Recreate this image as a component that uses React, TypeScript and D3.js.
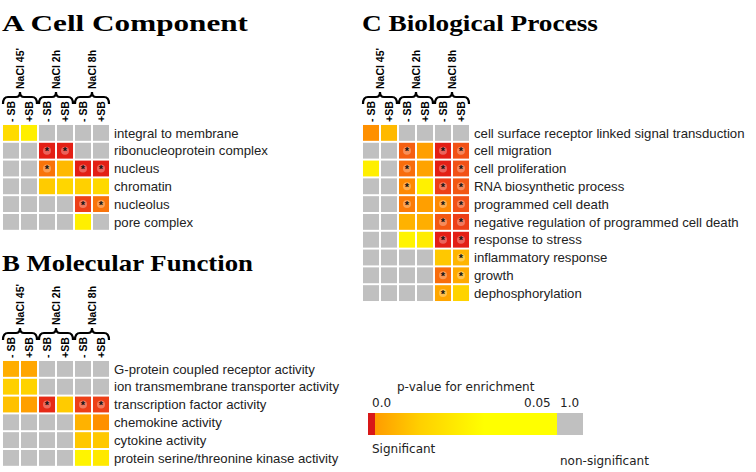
import * as d3 from "d3";
import React from "react";
import { useRef, useEffect } from "react";

// column / group headers (same for all three panels)
const columns = ["- SB", "+SB", "- SB", "+SB", "- SB", "+SB"];
const groups = ["NaCl 45'", "NaCl 2h", "NaCl 8h"];

// A Cell Component
const ccTerms = ["integral to membrane", "ribonucleoprotein complex", "nucleus", "chromatin", "nucleolus", "pore complex"];
const ccP = [
  [0.037, 0.044, null, null, null, null],
  [null, null, 0.001, 0.001, null, null],
  [null, null, 0.011, 0.026, 0.001, 0.001],
  [null, null, 0.031, 0.035, 0.033, 0.036],
  [null, null, null, null, 0.004, 0.011],
  [null, null, null, null, 0.044, null],
];
const ccStar = [
  [0, 0, 0, 0, 0, 0],
  [0, 0, 1, 1, 0, 0],
  [0, 0, 1, 0, 1, 1],
  [0, 0, 0, 0, 0, 0],
  [0, 0, 0, 0, 1, 1],
  [0, 0, 0, 0, 0, 0],
];

// B Molecular Function
const mfTerms = ["G-protein coupled receptor activity", "ion transmembrane transporter activity", "transcription factor activity", "chemokine activity", "cytokine activity", "protein serine/threonine kinase activity"];
const mfP = [
  [0.023, 0.021, null, null, null, null],
  [0.033, 0.034, null, null, null, null],
  [0.028, 0.019, 0.002, 0.031, 0.004, 0.004],
  [null, null, null, null, 0.024, 0.015],
  [null, null, null, null, 0.030, 0.030],
  [null, null, null, null, 0.046, 0.042],
];
const mfStar = [
  [0, 0, 0, 0, 0, 0],
  [0, 0, 0, 0, 0, 0],
  [0, 0, 1, 0, 1, 1],
  [0, 0, 0, 0, 0, 0],
  [0, 0, 0, 0, 0, 0],
  [0, 0, 0, 0, 0, 0],
];

// C Biological Process
const bpTerms = ["cell surface receptor linked signal transduction", "cell migration", "cell proliferation", "RNA biosynthetic process", "programmed cell death", "negative regulation of programmed cell death", "response to stress", "inflammatory response", "growth", "dephosphorylation"];
const bpP = [
  [0.015, 0.026, null, null, null, null],
  [null, null, 0.008, 0.019, 0.001, 0.006],
  [0.044, null, 0.010, 0.020, 0.001, 0.006],
  [null, null, 0.014, 0.045, 0.004, 0.007],
  [null, null, 0.012, 0.019, 0.014, 0.006],
  [null, null, 0.024, 0.023, 0.007, 0.004],
  [null, null, 0.046, 0.043, 0.001, 0.001],
  [null, null, null, null, 0.030, 0.025],
  [null, null, null, null, 0.010, 0.022],
  [null, null, null, null, 0.021, 0.034],
];
const bpStar = [
  [0, 0, 0, 0, 0, 0],
  [0, 0, 1, 0, 1, 1],
  [0, 0, 1, 0, 1, 1],
  [0, 0, 1, 0, 1, 1],
  [0, 0, 1, 0, 1, 1],
  [0, 0, 0, 0, 1, 1],
  [0, 0, 0, 0, 1, 1],
  [0, 0, 0, 0, 0, 1],
  [0, 0, 0, 0, 1, 1],
  [0, 0, 0, 0, 1, 0],
];

// legend
const legendTicks = ["0.0", "0.05", "1.0"];

const width = 756;
const height = 472;

export default function App() {
  const ref = useRef<SVGSVGElement>(null);

  useEffect(() => {
    const svg = d3.select(ref.current);
    svg.selectAll("*").remove();

    const color = d3.scaleLinear<string>()
      .domain([0, 0.005, 0.015, 0.03, 0.05])
      .range(["#e01414", "#f04a18", "#ff9000", "#ffc800", "#ffff00"]);
    const grey = "#c0c0c0";

    const drawPanel = (title: string, titleLen: number, x0: number, titleY: number, gridTop: number,
      terms: string[], pvals: (number | null)[][], stars: number[][]) => {
      const g = svg.append("g");

      g.append("text")
        .attr("x", x0)
        .attr("y", titleY)
        .attr("font-family", "Liberation Serif, serif")
        .attr("font-weight", "bold")
        .attr("font-size", 23)
        .attr("textLength", titleLen)
        .attr("lengthAdjust", "spacingAndGlyphs")
        .text(title);

      const x = d3.scaleBand<number>()
        .domain(d3.range(columns.length))
        .range([x0, x0 + 108])
        .paddingInner(0.11)
        .paddingOuter(0.055);
      const y = d3.scaleBand<number>()
        .domain(d3.range(terms.length))
        .range([gridTop, gridTop + 17.8 * terms.length])
        .paddingInner(0.11)
        .paddingOuter(0.055);

      // column labels
      g.selectAll(".col")
        .data(columns)
        .enter().append("text")
        .attr("transform", (d, i) => `translate(${x(i)! + x.bandwidth() / 2},${gridTop - 2}) rotate(-90)`)
        .attr("dy", "0.35em")
        .attr("font-family", "Liberation Sans, Arial, sans-serif")
        .attr("font-weight", "bold")
        .attr("font-size", 10.5)
        .text((d) => d);

      // braces + group labels
      groups.forEach((name, k) => {
        const a = x0 + 36 * k + 1;
        const b = x0 + 36 * (k + 1) - 1;
        const m = (a + b) / 2;
        const yb = gridTop - 27;
        g.append("path")
          .attr("d", `M${a},${yb + 7} Q${a},${yb} ${a + 5},${yb} L${m - 4},${yb} Q${m},${yb} ${m},${yb - 5} Q${m},${yb} ${m + 4},${yb} L${b - 5},${yb} Q${b},${yb} ${b},${yb + 7}`)
          .attr("fill", "none")
          .attr("stroke", "#000")
          .attr("stroke-width", 2.2);
        g.append("text")
          .attr("transform", `translate(${m},${gridTop - 35}) rotate(-90)`)
          .attr("dy", "0.35em")
          .attr("font-family", "Liberation Sans, Arial, sans-serif")
          .attr("font-weight", "bold")
          .attr("font-size", 10.5)
          .text(name);
      });

      // cells
      const cells = pvals.flatMap((row, r) => row.map((p, c) => ({ r, c, p, star: stars[r][c] })));
      g.selectAll(".cell")
        .data(cells)
        .enter().append("rect")
        .attr("x", (d) => x(d.c)!)
        .attr("y", (d) => y(d.r)!)
        .attr("width", x.bandwidth())
        .attr("height", y.bandwidth())
        .attr("fill", (d) => (d.p === null ? grey : color(d.p)));

      const starred = cells.filter((d) => d.star);
      g.selectAll(".halo")
        .data(starred)
        .enter().append("circle")
        .attr("cx", (d) => x(d.c)! + x.bandwidth() / 2)
        .attr("cy", (d) => y(d.r)! + y.bandwidth() / 2)
        .attr("r", 4)
        .attr("fill", "#fff")
        .attr("fill-opacity", 0.3);
      g.selectAll(".star")
        .data(starred)
        .enter().append("text")
        .attr("x", (d) => x(d.c)! + x.bandwidth() / 2)
        .attr("y", (d) => y(d.r)! + y.bandwidth() / 2 + 4.5)
        .attr("text-anchor", "middle")
        .attr("font-family", "Liberation Sans, Arial, sans-serif")
        .attr("font-weight", "bold")
        .attr("font-size", 11)
        .attr("fill", "#111")
        .text("*");

      // row labels
      g.selectAll(".term")
        .data(terms)
        .enter().append("text")
        .attr("x", x0 + 112)
        .attr("y", (d, i) => y(i)! + y.bandwidth() / 2)
        .attr("dy", "0.35em")
        .attr("font-family", "Liberation Sans, Arial, sans-serif")
        .attr("font-size", 13.2)
        .attr("fill", "#222")
        .text((d) => d);
    };

    drawPanel("A Cell Component", 246, 2, 31, 124, ccTerms, ccP, ccStar);
    drawPanel("B Molecular Function", 251, 2, 271, 360, mfTerms, mfP, mfStar);
    drawPanel("C Biological Process", 236, 362, 31, 124, bpTerms, bpP, bpStar);

    // legend
    const lg = svg.append("g").attr("font-family", "DejaVu Sans, sans-serif").attr("fill", "#222");
    const grad = svg.append("defs").append("linearGradient").attr("id", "pgrad");
    grad.append("stop").attr("offset", "0%").attr("stop-color", "#ff9c00");
    grad.append("stop").attr("offset", "25%").attr("stop-color", "#ffd000");
    grad.append("stop").attr("offset", "60%").attr("stop-color", "#ffff00");
    grad.append("stop").attr("offset", "100%").attr("stop-color", "#ffff00");

    const lx = d3.scaleLinear().domain([0, 0.05]).range([375, 557]);
    lg.append("rect").attr("x", 368).attr("y", 413).attr("width", 7).attr("height", 22).attr("fill", "#d81818");
    lg.append("rect").attr("x", lx(0)).attr("y", 413).attr("width", lx(0.05) - lx(0)).attr("height", 22).attr("fill", "url(#pgrad)");
    lg.append("rect").attr("x", lx(0.05)).attr("y", 413).attr("width", 26).attr("height", 22).attr("fill", "#c0c0c0");

    lg.append("text").attr("x", 397).attr("y", 391).attr("font-size", 12).text("p-value for enrichment");
    const tickX = [372, 524, 560];
    legendTicks.forEach((t, i) => {
      lg.append("text").attr("x", tickX[i]).attr("y", 407).attr("font-size", 12).text(t);
    });
    lg.append("text").attr("x", 372).attr("y", 453).attr("font-size", 12).text("Significant");
    lg.append("text").attr("x", 560).attr("y", 465).attr("font-size", 12).text("non-significant");
  }, []);

  return (
    <svg
      ref={ref}
      width={width}
      height={height}
      style={{ position: "absolute", left: 0, top: 0, background: "#fff" }}
    />
  );
}
